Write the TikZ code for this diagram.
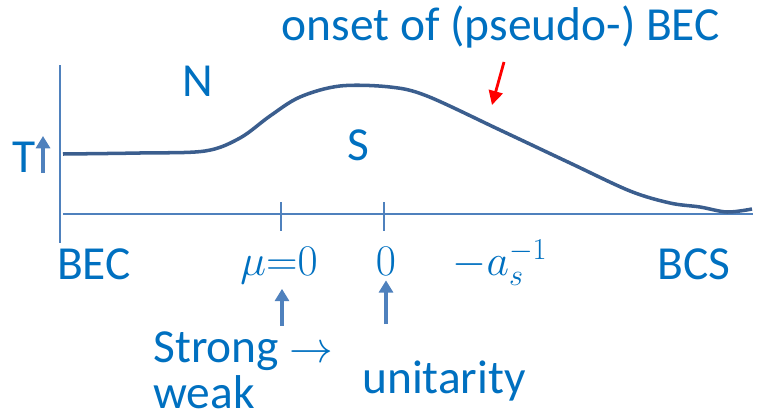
\documentclass[tikz,border=0pt]{standalone}
\usepackage{fontspec}
\setmainfont{Carlito}
\usepackage{xcolor}
\usetikzlibrary{arrows.meta, positioning, calc}

\definecolor{txtblue}{HTML}{0070C0}
\definecolor{axblue}{HTML}{4F81BD}
\definecolor{crvblue}{HTML}{3B5E8E}

\begin{document}
\begin{tikzpicture}[
        x=0.02cm, y=-0.02cm,
        >={Triangle[length=7pt, width=8pt]},
        % styles
        lbl/.style={text=txtblue, font=\fontsize{27}{32}\selectfont, inner sep=0pt, anchor=base},
        axis/.style={draw=axblue, line width=1.6pt},
        curve/.style={draw=crvblue, line width=2pt, line join=round},
        uparrow/.style={draw=axblue, fill=axblue, line width=2pt, ->},
        onsetarrow/.style={draw=red, line width=1.6pt, -{Triangle[length=8pt, width=8pt]}}
    ]
    \useasboundingbox (0,0) rectangle (758,419);

    % --- 1. AXES ---
    \coordinate (ytop) at (60,65);
    \coordinate (ybot) at (60,243);
    \coordinate (xleft) at (63,214);
    \coordinate (xright) at (753,214);
    \draw[axis] (ytop) -- (ybot);
    \draw[axis] (xleft) -- (xright);
    \coordinate (tickmu) at (281,214);
    \coordinate (tickzero) at (384,214);
    \draw[axis] ($(tickmu)+(0,-12)$) -- ($(tickmu)+(0,17)$);
    \draw[axis] ($(tickzero)+(0,-12)$) -- ($(tickzero)+(0,17)$);

    % --- 2. PHASE BOUNDARY ---
    \draw[curve] plot[smooth, tension=0.55] coordinates {
        (63,154) (140,153) (205,151) (240,138) (270,116) (300,97) (340,86)
        (390,87) (427,96) (500,130) (570,163) (630,191) (670,203)
        (700,207) (727,212) (752,209)};

    % --- 3. LABELS ---
    \node[lbl] (onset) at (501,40) {onset of (pseudo-) BEC};
    \node[lbl] (N) at (198,96) {N};
    \node[lbl] (S) at (358,160) {S};
    \node[lbl] (T) at (24,172) {T};
    \node[lbl] (bec) at (94,279) {BEC};
    \node[lbl] (bcs) at (694,279) {BCS};
    \node[lbl] (mu) at (279,275) {$\mu{=}0$};
    \node[lbl] (zero) at (386,275) {$0$};
    \node[lbl] (as) at (500,275) {$-a_s^{-1}$};
    \node[lbl, anchor=base west] (strong) at (153,362) {Strong $\rightarrow$};
    \node[lbl, anchor=base west] (weak) at (153,408) {weak};
    \node[lbl] (unit) at (444,393) {unitarity};

    % --- 4. ARROWS ---
    \coordinate (tfoot) at (43,173);
    \draw[uparrow] (tfoot) -- ++(0,-37);
    \coordinate (onsettail) at (504,62);
    \draw[onsetarrow] (onsettail) -- (492,105);
    \draw[uparrow] ($(tickmu |- strong.north)+(1,-5)$) -- ($(tickmu |- mu.south)+(1,5)$);
    \draw[uparrow] ($(unit.north -| zero)+(0,-36)$) -- ($(zero.south)+(0,5)$);

\end{tikzpicture}
\end{document}
